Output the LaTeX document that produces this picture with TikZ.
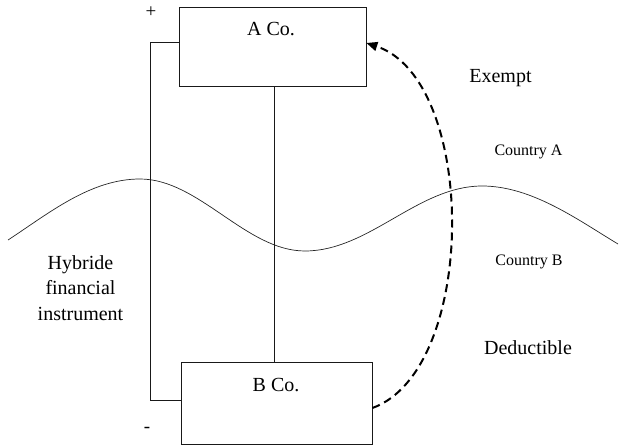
\documentclass[tikz,border=0pt]{standalone}
\usepackage{fontspec}
\setmainfont{Liberation Serif}
\usetikzlibrary{arrows.meta}
\begin{document}
\begin{tikzpicture}[x=1pt,y=-1pt,
  box/.style={draw=black!90, line width=0.8pt, inner sep=0pt},
  big/.style={font=\fontsize{20}{24}\selectfont, inner sep=0pt},
  small/.style={font=\fontsize{16}{19}\selectfont, inner sep=0pt},
  sign/.style={font=\fontsize{19}{22}\selectfont, inner sep=0pt},
  link/.style={draw=black!90, line width=1pt},
  wave/.style={draw=black!85, line width=0.7pt},
  dashcurve/.style={draw=black, line width=2pt, dash pattern=on 8pt off 5pt,
    -{Triangle[length=11pt,width=9pt]}}]
\useasboundingbox (0,0) rectangle (622,446);

% boxes
\node[box, minimum width=187pt, minimum height=79pt] (A) at (272.5,46.5) {};
\node[box, minimum width=191pt, minimum height=82pt] (B) at (276.5,403) {};
\node[big, anchor=base] (Atxt) at (271,36) {A Co.};
\node[big, anchor=base] (Btxt) at (276,392) {B Co.};

% wave (border)
\draw[wave] (8,240) .. controls (48,214) and (90,179) .. (140,179)
  .. controls (199,179) and (246,251) .. (305,251)
  .. controls (369,251) and (418,186) .. (482,186)
  .. controls (532,186) and (578,220) .. (618,244);

% connectors
\coordinate (bx) at (150,0);
\coordinate (mx) at (274,0);
\coordinate (at) at ([yshift=3.5pt]A.west);
\coordinate (bt) at ([yshift=2pt]B.west);
\draw[link] (at) -- (bx |- at) -- (bx |- bt) -- (bt);
\draw[link] (A.south -| mx) -- (B.north -| mx);
\draw[dashcurve] ([yshift=-5pt]B.east) .. controls (478,370) and (478,80) .. ([yshift=3.5pt]A.east);

% labels
\node[sign] (plus) at (151,12) {+};
\node[sign] (minus) at (147,429.5) {-};
\node[big, anchor=base] (ex) at (500.5,83) {Exempt};
\node[small, anchor=base] (ca) at (528.5,156) {Country A};
\node[small, anchor=base] (cb) at (529,266) {Country B};
\node[big, anchor=base] (de) at (528,355) {Deductible};
\node[big, align=center, font=\fontsize{20}{25.5}\selectfont] (hy) at (80.5,287.7) {Hybride\\financial\\instrument};
\end{tikzpicture}
\end{document}
